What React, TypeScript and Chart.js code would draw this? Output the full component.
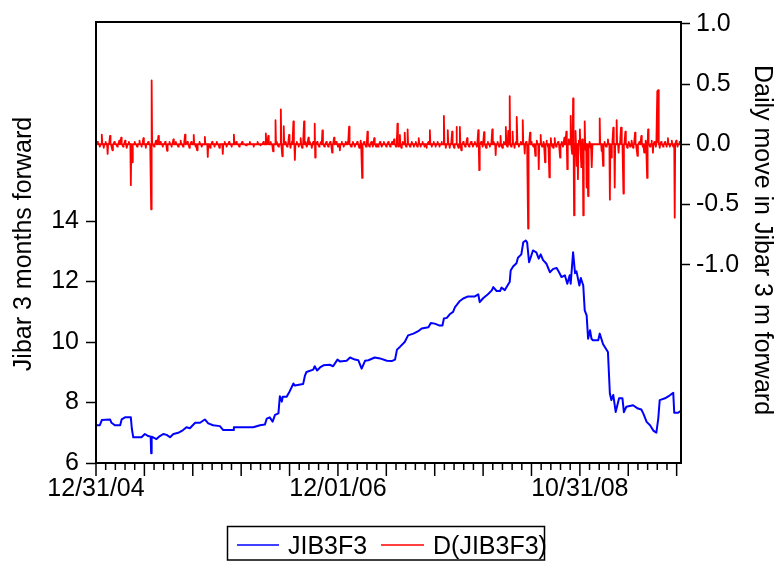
import React, { useEffect, useRef } from "react";
import { Chart, registerables } from "chart.js";

Chart.register(...registerables);

// ---- data (observation index = business day from 12/31/04) ----
const N_OBS = 1210;
const dateLabels = ["12/31/04", "12/01/06", "10/31/08"];
const dateLabelObs = [0, 500, 1000];
const leftTicks = [6, 8, 10, 12, 14];
const rightTicks = [-1, -0.5, 0, 0.5, 1];

// JIB3F3 level, [observation, value]
const blueKnots: [number, number][] = [
  [0, 7.25], [8, 7.25], [12, 7.42], [29, 7.44], [32, 7.33], [39, 7.25], [50, 7.25], [53, 7.44],
  [60, 7.51], [72, 7.51], [74, 7.14], [77, 6.85], [94, 6.85], [101, 6.96], [108, 6.89], [113, 6.87],
  [114, 6.32], [115, 6.87], [125, 6.79], [132, 6.89], [139, 6.96], [146, 6.93], [153, 6.85], [160, 6.96],
  [170, 7.0], [180, 7.09], [187, 7.18], [194, 7.15], [205, 7.33], [215, 7.33], [225, 7.44], [232, 7.31],
  [242, 7.25], [256, 7.22], [263, 7.09], [284, 7.09], [285, 7.18], [325, 7.18], [339, 7.25], [349, 7.27],
  [353, 7.47], [359, 7.51], [365, 7.37], [370, 7.59], [377, 7.64], [380, 8.21], [384, 8.03], [386, 8.19],
  [394, 8.19], [399, 8.33], [408, 8.63], [411, 8.56], [428, 8.61], [432, 8.9], [435, 9.01], [449, 9.09],
  [452, 9.2], [457, 9.06], [463, 9.16], [470, 9.23], [483, 9.25], [490, 9.2], [499, 9.42], [504, 9.36],
  [518, 9.38], [525, 9.49], [535, 9.42], [542, 9.4], [549, 9.12], [556, 9.38], [563, 9.4], [576, 9.49],
  [587, 9.46], [601, 9.38], [611, 9.37], [618, 9.42], [622, 9.75], [628, 9.84], [638, 10.0], [645, 10.22],
  [656, 10.28], [666, 10.36], [673, 10.45], [687, 10.49], [692, 10.63], [700, 10.61], [709, 10.55], [716, 10.55],
  [719, 10.78], [725, 10.8], [731, 10.92], [738, 11.0], [742, 11.16], [752, 11.36], [759, 11.44], [769, 11.51],
  [783, 11.51], [790, 11.58], [793, 11.32], [800, 11.45], [810, 11.58], [818, 11.71], [821, 11.82], [828, 11.69],
  [835, 11.69], [838, 11.8], [845, 11.72], [852, 11.91], [855, 11.99], [857, 12.37], [862, 12.5], [869, 12.61],
  [872, 12.79], [879, 12.9], [883, 13.3], [888, 13.36], [891, 13.3], [895, 12.64], [899, 12.83], [903, 13.03],
  [910, 12.97], [915, 12.76], [919, 12.9], [924, 12.71], [931, 12.59], [938, 12.31], [945, 12.42], [952, 12.45],
  [957, 12.31], [962, 12.15], [969, 12.21], [974, 11.93], [979, 12.21], [981, 11.93], [986, 12.97], [990, 12.28],
  [993, 12.34], [999, 11.87], [1002, 12.12], [1007, 11.87], [1010, 11.05], [1014, 10.88], [1017, 10.11], [1021, 10.39],
  [1024, 10.11], [1027, 10.06], [1038, 10.06], [1041, 10.28], [1048, 9.93], [1058, 9.67], [1062, 8.3], [1065, 8.08],
  [1069, 8.25], [1074, 7.69], [1081, 8.14], [1088, 8.14], [1091, 7.68], [1096, 7.86], [1110, 7.91], [1120, 7.8],
  [1127, 7.77], [1131, 7.64], [1138, 7.36], [1145, 7.25], [1152, 7.07], [1158, 7.0], [1162, 7.47], [1165, 8.08],
  [1176, 8.14], [1186, 8.24], [1193, 8.32], [1195, 7.66], [1203, 7.66], [1209, 7.73],
];

// D(JIB3F3) daily moves that differ visibly from zero, [observation, value]
const redMoves: [number, number][] = [
  [3, 0.02], [8, -0.02], [12, 0.08], [16, -0.03], [20, 0.02], [24, -0.08], [29, 0.07], [34, -0.05],
  [38, 0.02], [44, -0.02], [48, 0.03], [52, 0.055], [56, -0.02], [60, 0.03], [64, -0.03], [68, 0.02],
  [72, -0.34], [75, -0.15], [80, 0.02], [85, -0.02], [90, 0.03], [94, -0.02], [98, 0.05], [103, -0.03],
  [108, 0.02], [114, -0.54], [115, 0.53], [120, -0.02], [124, 0.03], [129, 0.07], [133, 0.02], [138, -0.02],
  [143, 0.02], [147, -0.055], [152, 0.02], [156, -0.02], [160, 0.04], [165, 0.02], [170, -0.02], [175, 0.03],
  [180, -0.02], [184, 0.08], [189, 0.02], [193, -0.03], [197, 0.02], [202, 0.077], [206, -0.02], [209, -0.05],
  [214, 0.02], [219, -0.02], [225, 0.06], [231, -0.105], [236, -0.03], [240, 0.02], [245, -0.02], [250, 0.02],
  [255, -0.03], [262, -0.08], [266, 0.02], [270, -0.02], [275, 0.02], [280, -0.02], [285, 0.08], [290, 0.02],
  [296, -0.02], [302, 0.02], [310, -0.01], [318, 0.02], [326, -0.02], [334, 0.02], [340, -0.01], [346, 0.02],
  [351, 0.09], [356, 0.07], [361, 0.02], [366, -0.06], [371, 0.2], [374, 0.02], [377, -0.02], [382, 0.29],
  [385, -0.1], [388, 0.15], [392, 0.02], [395, -0.02], [399, 0.077], [402, -0.03], [405, 0.02], [408, 0.19],
  [411, -0.13], [415, 0.02], [419, -0.02], [423, 0.05], [426, -0.03], [430, 0.19], [433, 0.02], [436, -0.02],
  [439, 0.055], [442, 0.02], [446, -0.03], [449, 0.02], [452, 0.17], [453, -0.11], [457, 0.02], [461, -0.02],
  [465, 0.02], [468, 0.115], [472, -0.02], [476, 0.02], [480, -0.02], [484, 0.02], [488, -0.07], [492, 0.055],
  [496, 0.02], [500, -0.02], [504, -0.05], [508, 0.02], [512, -0.02], [516, 0.02], [520, 0.02], [523, 0.145],
  [527, -0.02], [531, 0.02], [535, -0.02], [540, 0.02], [544, -0.03], [547, 0.03], [550, -0.28], [554, 0.02],
  [558, -0.02], [561, 0.105], [565, -0.02], [569, 0.02], [572, -0.02], [575, 0.05], [579, -0.02], [583, -0.02],
  [587, 0.02], [591, -0.02], [595, 0.02], [600, -0.02], [604, 0.02], [608, -0.02], [612, 0.02], [616, 0.04],
  [620, -0.02], [623, 0.17], [626, -0.02], [628, 0.077], [631, -0.03], [634, 0.02], [638, 0.097], [641, -0.02],
  [644, 0.124], [649, -0.02], [653, 0.02], [657, -0.02], [661, 0.02], [664, -0.02], [667, 0.05], [671, -0.02],
  [675, 0.02], [679, -0.02], [683, -0.03], [687, 0.02], [690, 0.116], [694, -0.02], [698, 0.02], [702, -0.02],
  [706, 0.02], [710, -0.02], [714, 0.02], [719, 0.235], [723, -0.03], [727, 0.116], [731, -0.03], [736, 0.105],
  [740, -0.03], [745, 0.143], [749, -0.03], [752, 0.143], [755, -0.05], [759, 0.02], [763, -0.02], [767, 0.05],
  [771, -0.02], [775, 0.02], [779, -0.02], [783, 0.02], [787, -0.02], [790, 0.116], [792, -0.215], [796, 0.02],
  [799, -0.02], [802, 0.1], [806, -0.03], [810, 0.02], [814, -0.02], [819, 0.124], [822, 0.02], [826, -0.09],
  [830, 0.02], [833, -0.02], [836, 0.07], [840, -0.03], [843, 0.02], [847, 0.143], [850, -0.02], [852, 0.11],
  [855, 0.4], [858, -0.02], [861, 0.105], [865, -0.03], [868, 0.02], [870, 0.226], [874, -0.02], [878, 0.02],
  [882, 0.2], [886, -0.077], [889, 0.02], [893, -0.7], [897, 0.097], [900, 0.02], [904, -0.02], [908, -0.097],
  [911, 0.03], [915, -0.207], [919, 0.077], [922, -0.02], [925, 0.02], [928, -0.15], [931, 0.03], [934, -0.02],
  [937, -0.276], [940, 0.05], [943, -0.02], [945, -0.03], [948, 0.05], [951, -0.02], [955, 0.02], [959, -0.11],
  [962, 0.02], [965, -0.02], [968, 0.055], [972, 0.105], [974, -0.207], [977, 0.04], [981, 0.235], [984, -0.08],
  [986, 0.38], [988, -0.59], [991, 0.11], [993, -0.18], [996, -0.29], [998, 0.03], [1000, 0.124], [1003, -0.19],
  [1005, 0.04], [1007, -0.59], [1010, 0.19], [1012, -0.05], [1014, -0.36], [1017, -0.43], [1020, 0.02], [1022, -0.03],
  [1025, -0.19], [1041, 0.215], [1045, -0.055], [1048, -0.18], [1051, 0.02], [1054, -0.02], [1058, 0.04], [1062, -0.46],
  [1065, -0.11], [1069, 0.138], [1072, -0.36], [1076, 0.2], [1080, -0.07], [1085, 0.138], [1090, -0.41], [1094, 0.105],
  [1098, -0.03], [1101, 0.02], [1104, -0.02], [1107, 0.03], [1110, -0.03], [1114, 0.097], [1119, -0.097], [1123, 0.02],
  [1127, 0.07], [1130, -0.02], [1133, -0.07], [1136, 0.03], [1139, -0.28], [1141, 0.124], [1145, -0.02], [1148, 0.03],
  [1151, -0.07], [1154, 0.02], [1157, -0.02], [1160, 0.44], [1161, 0.02], [1162, 0.45], [1165, -0.03], [1168, 0.02],
  [1172, -0.02], [1176, 0.02], [1179, -0.02], [1182, 0.05], [1186, -0.02], [1190, 0.03], [1193, -0.02], [1196, -0.61],
  [1199, 0.03], [1202, -0.02], [1206, 0.02], [1209, 0.01],
];

const FONT = "'Liberation Sans', Arial, Helvetica, sans-serif";
const BLUE = "#0000ff";
const RED = "#ff0000";

export default function App() {
  const ref = useRef<HTMLCanvasElement>(null);

  useEffect(() => {
    const canvas = ref.current;
    if (!canvas) return;

    const redSeries: number[] = new Array(N_OBS).fill(0);
    redMoves.forEach(([o, v]) => {
      redSeries[o] = v;
    });

    const overlay = {
      id: "overlay",
      afterDatasetsDraw(chart: any) {
        const { ctx, chartArea: a, scales } = chart;
        ctx.save();
        // frame
        ctx.strokeStyle = "#000";
        ctx.lineWidth = 2;
        ctx.strokeRect(a.left, a.top, a.right - a.left, a.bottom - a.top);
        // x tick marks (major every 100 obs, minor every 20)
        ctx.lineWidth = 1.5;
        ctx.beginPath();
        for (let o = 0; o < N_OBS; o += 20) {
          const px = scales.x.getPixelForValue(o);
          const len = o % 100 === 0 ? 13 : 7;
          ctx.moveTo(px, a.bottom);
          ctx.lineTo(px, a.bottom + len);
        }
        ctx.stroke();

        // axis titles
        ctx.fillStyle = "#000";
        ctx.font = `25px ${FONT}`;
        ctx.textAlign = "center";
        ctx.textBaseline = "middle";
        ctx.save();
        ctx.translate(24, 244);
        ctx.rotate(-Math.PI / 2);
        ctx.fillText("Jibar 3 months forward", 0, 0);
        ctx.restore();
        ctx.save();
        ctx.translate(762, 240);
        ctx.rotate(Math.PI / 2);
        ctx.fillText("Daily move in Jibar 3 m forward", 0, 0);
        ctx.restore();

        // legend
        ctx.lineWidth = 1.5;
        ctx.strokeStyle = "#000";
        ctx.strokeRect(227.5, 526.5, 317, 33.5);
        const ds = chart.data.datasets;
        ctx.lineWidth = 1.5;
        ctx.strokeStyle = ds[0].borderColor;
        ctx.beginPath();
        ctx.moveTo(237, 545);
        ctx.lineTo(279, 545);
        ctx.stroke();
        ctx.strokeStyle = ds[1].borderColor;
        ctx.beginPath();
        ctx.moveTo(381, 545);
        ctx.lineTo(424, 545);
        ctx.stroke();
        ctx.textAlign = "left";
        ctx.textBaseline = "alphabetic";
        ctx.fillText(ds[0].label, 288, 554);
        ctx.fillText(ds[1].label, 433, 554);
        ctx.restore();
      },
    };

    const chart = new Chart(canvas, {
      type: "line",
      data: {
        datasets: [
          {
            label: "JIB3F3",
            data: blueKnots.map(([x, y]) => ({ x, y })),
            borderColor: BLUE,
            borderWidth: 2,
            pointRadius: 0,
            tension: 0,
            yAxisID: "y",
            borderJoinStyle: "round",
          },
          {
            label: "D(JIB3F3)",
            data: redSeries.map((y, i) => ({ x: i, y })),
            borderColor: RED,
            borderWidth: 1.8,
            pointRadius: 0,
            tension: 0,
            yAxisID: "y2",
            borderJoinStyle: "round",
          },
        ],
      },
      options: {
        responsive: false,
        animation: false,
        events: [],
        layout: { padding: { top: 21, left: 0, right: 0, bottom: 0 } },
        font: { family: FONT, size: 25 },
        plugins: { legend: { display: false }, tooltip: { enabled: false } },
        scales: {
          x: {
            type: "linear",
            min: 0,
            max: N_OBS - 1,
            grid: { display: false, drawTicks: false },
            border: { display: false },
            afterBuildTicks: (s: any) => {
              s.ticks = dateLabelObs.map((v) => ({ value: v }));
            },
            ticks: {
              autoSkip: false,
              maxRotation: 0,
              padding: 11,
              color: "#000",
              font: { family: FONT, size: 25 },
              callback: (v: any) => {
                const i = dateLabelObs.indexOf(Number(v));
                return i >= 0 ? dateLabels[i] : "";
              },
            },
            afterFit: (s: any) => {
              s.height = 101;
            },
          },
          y: {
            type: "linear",
            position: "left",
            min: 6,
            max: 20.587,
            afterBuildTicks: (s: any) => {
              s.ticks = leftTicks.map((v) => ({ value: v }));
            },
            grid: {
              drawOnChartArea: false,
              drawTicks: true,
              tickLength: 10,
              tickColor: "#000",
              tickWidth: 1.5,
            },
            border: { display: false },
            ticks: {
              padding: 7,
              color: "#000",
              font: { family: FONT, size: 25 },
              callback: (v: any) => String(v),
            },
            afterFit: (s: any) => {
              s.width = 96;
            },
          },
          y2: {
            type: "linear",
            position: "right",
            min: -2.647,
            max: 1.015,
            afterBuildTicks: (s: any) => {
              s.ticks = rightTicks.map((v) => ({ value: v }));
            },
            grid: {
              drawOnChartArea: false,
              drawTicks: true,
              tickLength: 9,
              tickColor: "#000",
              tickWidth: 1.5,
            },
            border: { display: false },
            ticks: {
              padding: 6,
              color: "#000",
              font: { family: FONT, size: 25 },
              callback: (v: any) => Number(v).toFixed(1),
            },
            afterFit: (s: any) => {
              s.width = 98;
            },
          },
        },
      },
      plugins: [overlay],
    } as any);

    return () => chart.destroy();
  }, []);

  return (
    <div style={{ position: "absolute", left: 0, top: 0, width: 779, height: 564, background: "#fff" }}>
      <canvas ref={ref} width={779} height={564} style={{ width: 779, height: 564, display: "block" }} />
    </div>
  );
}
